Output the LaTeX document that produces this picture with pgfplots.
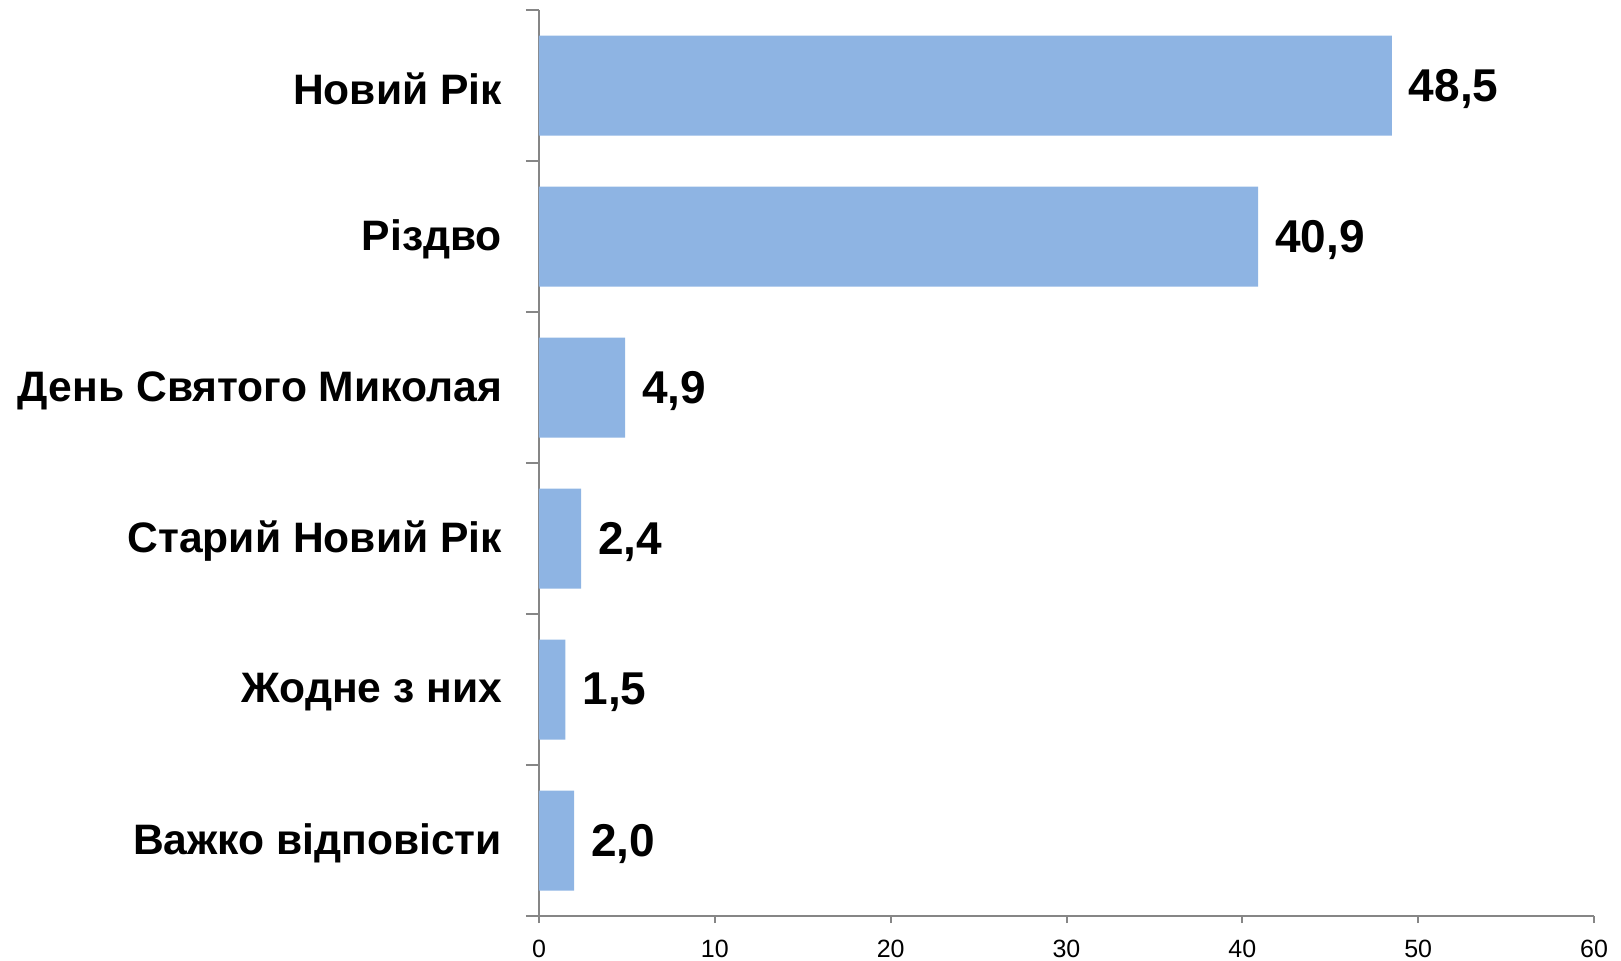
\documentclass[border=0pt]{standalone}
\usepackage{fontspec}
\setmainfont{Liberation Sans}
\usepackage{pgfplots}
\pgfplotsset{compat=1.18}
\definecolor{barblue}{HTML}{8EB4E3}
\definecolor{axgray}{HTML}{868686}
\begin{document}
\begin{tikzpicture}
\begin{axis}[
  at={(0,0)}, anchor=south west,
  scale only axis,
  width=527.5pt, height=453pt,
  xbar, bar width=50pt,
  xmin=0, xmax=60,
  ymin=-0.5, ymax=5.5,
  y dir=reverse,
  xtick={0,10,...,60},
  ytick={0,1,2,3,4,5},
  yticklabels={Новий Рік,Різдво,День Святого Миколая,Старий Новий Рік,Жодне з них,Важко відповісти},
  minor ytick={-0.5,0.5,...,5.5},
  axis x line*=bottom,
  axis y line*=left,
  axis line style={axgray, line width=1pt, -},
  tick align=outside,
  major tick length=3.5pt,
  minor tick length=6.5pt,
  x tick style={axgray, line width=1pt},
  minor y tick style={axgray, line width=1pt},
  major y tick style={draw=none},
  /pgf/number format/assume math mode=true,
  xticklabel style={font=\fontsize{12.5}{14}\selectfont, yshift=-5pt},
  yticklabel style={font=\fontsize{21.3}{25}\selectfont\bfseries, xshift=-11.5pt, yshift=-1.5pt},
  nodes near coords={\pgfmathprintnumber[fixed, fixed zerofill, precision=1, use comma, assume math mode=true]{\pgfplotspointmeta}},
  nodes near coords style={font=\fontsize{23}{27}\selectfont\bfseries, anchor=west, xshift=5pt, yshift=-1.5pt, black},
]
\addplot[fill=barblue, draw=none] coordinates {
  (48.5,0) (40.9,1) (4.9,2) (2.4,3) (1.5,4) (2.0,5)
};
\end{axis}
\pgfresetboundingbox
\useasboundingbox (-269.5pt,-22pt) rectangle (541pt,458pt);
\end{tikzpicture}
\end{document}
